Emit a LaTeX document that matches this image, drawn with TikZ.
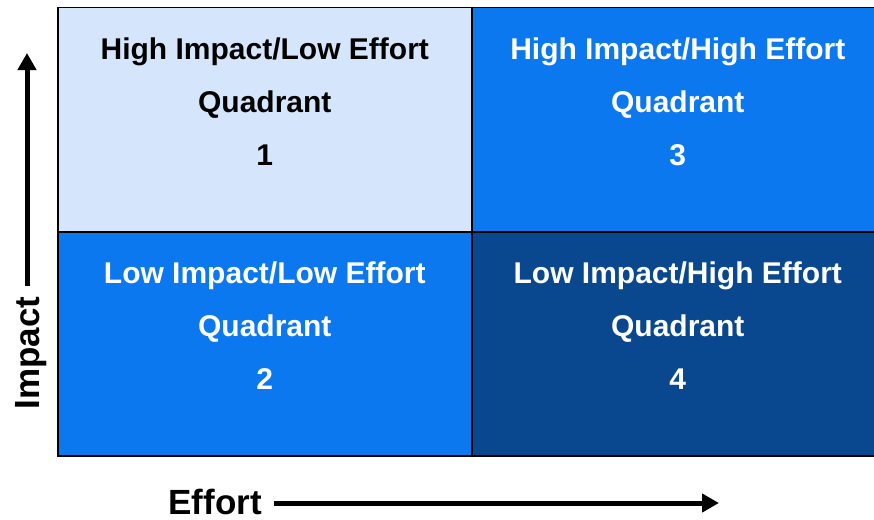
\documentclass[tikz,border=0pt]{standalone}
\usepackage{fontspec}
\setmainfont{Liberation Sans}
\usetikzlibrary{arrows.meta}

\definecolor{quadlight}{RGB}{213,230,252}
\definecolor{quadmid}{RGB}{12,120,240}
\definecolor{quaddark}{RGB}{9,72,142}

\begin{document}
\begin{tikzpicture}[
        x=1pt, y=-1pt,
        quad/.style={rectangle, draw=black, line width=1.5pt, anchor=north west, minimum height=224pt},
        qlabel/.style={anchor=north, align=center, inner sep=0pt, font=\fontsize{30}{53}\selectfont\bfseries},
        axislabel/.style={inner sep=0pt, font=\fontsize{35}{40}\selectfont\bfseries},
        axis/.style={line width=5pt, -{Triangle[length=17pt,width=18pt]}}
    ]
        \clip (0,0) rectangle (874,519);

        % Quadrants
        \node[quad, fill=quadlight, minimum width=414pt] (Q1) at (57,7) {};
        \node[quad, fill=quadmid, minimum width=412pt] (Q3) at (471,7) {};
        \node[quad, fill=quadmid, minimum width=414pt] (Q2) at (57,231) {};
        \node[quad, fill=quaddark, minimum width=412pt] (Q4) at (471,231) {};

        % Quadrant texts
        \node[qlabel, text=black] (L1) at ([yshift=-31pt]Q1.north) {High Impact/Low Effort\\Quadrant\\1};
        \node[qlabel, text=white] (L3) at ([yshift=-31pt]Q3.north) {High Impact/High Effort\\Quadrant\\3};
        \node[qlabel, text=white] (L2) at ([yshift=-31pt]Q2.north) {Low Impact/Low Effort\\Quadrant\\2};
        \node[qlabel, text=white] (L4) at ([yshift=-31pt]Q4.north) {Low Impact/High Effort\\Quadrant\\4};

        % Axes
        \node[axislabel, rotate=90] (impact) at (31,353) {Impact};
        \coordinate (impact-tip) at (27,53);
        \coordinate (impact-tail) at ([yshift=10pt]impact.east);
        \draw[axis] (impact-tail -| impact-tip) -- (impact-tip);

        \node[axislabel] (effort) at (215,502) {Effort};
        \coordinate (effort-tip) at (719,503);
        \coordinate (effort-tail) at ([xshift=12pt]effort.east);
        \draw[axis] (effort-tail |- effort-tip) -- (effort-tip);
    \end{tikzpicture}
\end{document}
